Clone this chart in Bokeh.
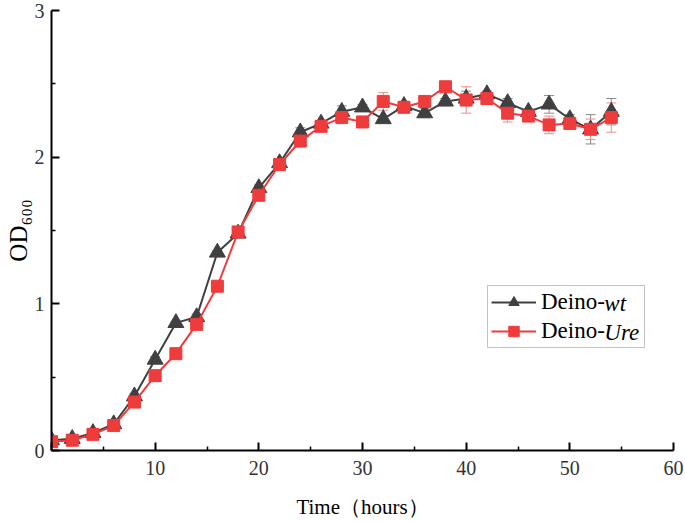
from bokeh.plotting import figure
from bokeh.models import (Range1d, Whisker, ColumnDataSource, Legend, LegendItem,
                          FixedTicker, TeeHead)
from bokeh.core.properties import value
from bokeh.embed import file_html
from bokeh.resources import INLINE

# ---- data ----
hours = [0, 2, 4, 6, 8, 10, 12, 14, 16, 18, 20, 22, 24, 26, 28, 30, 32, 34, 36, 38,
         40, 42, 44, 46, 48, 50, 52, 54]
wt_od = [0.07, 0.08, 0.12, 0.18, 0.37, 0.62, 0.87, 0.91, 1.35, 1.48, 1.79, 1.96,
         2.17, 2.23, 2.31, 2.34, 2.26, 2.35, 2.30, 2.38, 2.40, 2.43, 2.37, 2.31,
         2.36, 2.26, 2.19, 2.31]
wt_err = [0.01, 0.01, 0.02, 0.01, 0.02, 0.02, 0.01, 0.02, 0.01, 0.02, 0.02, 0.03,
          0.03, 0.02, 0.04, 0.02, 0.02, 0.02, 0.03, 0.02, 0.05, 0.02, 0.03, 0.02,
          0.06, 0.03, 0.10, 0.09]
ure_od = [0.06, 0.07, 0.11, 0.17, 0.33, 0.51, 0.66, 0.86, 1.12, 1.49, 1.74, 1.95,
          2.11, 2.21, 2.27, 2.24, 2.38, 2.34, 2.38, 2.48, 2.39, 2.40, 2.30, 2.28,
          2.22, 2.23, 2.19, 2.27]
ure_err = [0.01, 0.01, 0.02, 0.01, 0.02, 0.03, 0.01, 0.02, 0.01, 0.02, 0.02, 0.03,
           0.04, 0.02, 0.02, 0.02, 0.06, 0.02, 0.02, 0.02, 0.09, 0.02, 0.06, 0.02,
           0.06, 0.03, 0.07, 0.10]
x_ticks = [0, 10, 20, 30, 40, 50, 60]
y_ticks = [0, 1, 2, 3]
series_names = ["Deino-", "Deino-"]
series_italic = ["wt", "Ure"]
x_title = "Time（hours）"
y_title = "OD₆₀₀"

GRAY = "#404040"
RED = "#ee3b3b"
FONT = "Liberation Serif"

W, H = 685, 521
BL, BR, BT, BB = 51, 12, 10, 71
X0, X1, Y0, Y1 = 0, 60, 0, 3

p = figure(width=W, height=H, output_backend="svg", toolbar_location=None,
           x_range=Range1d(X0, X1), y_range=Range1d(Y0, Y1),
           min_border_left=BL, min_border_right=BR, min_border_top=BT, min_border_bottom=BB)
p.outline_line_color = None
p.grid.visible = False
p.background_fill_color = "white"

# pixel -> data helpers (for annotation placement)
pxu_x = (W - BL - BR) / (X1 - X0)
pxu_y = (H - BT - BB) / (Y1 - Y0)
def dx(px):
    return X0 + (px - BL) / pxu_x
def dy(py):
    return Y0 + (H - BB - py) / pxu_y

for ax in (p.xaxis[0], p.yaxis[0]):
    ax.axis_line_width = 2
    ax.axis_line_color = "black"
    ax.major_tick_in = 8
    ax.major_tick_out = 0
    ax.minor_tick_in = 4
    ax.minor_tick_out = 0
    ax.major_tick_line_width = 2
    ax.minor_tick_line_width = 1.5
    ax.major_tick_line_color = "black"
    ax.minor_tick_line_color = "black"
    ax.major_label_text_font = FONT
    ax.major_label_text_font_size = "20px"
    ax.major_label_text_color = "#333333"
    ax.axis_label_text_font = FONT
    ax.axis_label_text_font_style = "normal"
    ax.axis_label_text_color = "black"

p.xaxis.ticker = FixedTicker(ticks=x_ticks, minor_ticks=[t + 5 for t in x_ticks[:-1]])
p.yaxis.ticker = FixedTicker(ticks=y_ticks, minor_ticks=[t + 0.5 for t in y_ticks[:-1]])
p.xaxis.major_label_overrides = {0: ""}
p.xaxis.major_label_standoff = 10
p.yaxis.major_label_standoff = 7
p.xaxis.axis_label = x_title
p.xaxis.axis_label_text_font_size = "21px"
p.xaxis.axis_label_standoff = 17
p.yaxis.axis_label = y_title
p.yaxis.axis_label_text_font_size = "25px"
p.yaxis.axis_label_standoff = 0

# error bars
src_wt = ColumnDataSource(dict(x=hours, y=wt_od,
                               lo=[v - e for v, e in zip(wt_od, wt_err)],
                               hi=[v + e for v, e in zip(wt_od, wt_err)]))
src_ure = ColumnDataSource(dict(x=hours, y=ure_od,
                                lo=[v - e for v, e in zip(ure_od, ure_err)],
                                hi=[v + e for v, e in zip(ure_od, ure_err)]))

for src, col in ((src_wt, "#8a8a8a"), (src_ure, "#f08a8a")):
    w = Whisker(source=src, base="x", upper="hi", lower="lo", line_color=col, line_width=1,
                upper_head=TeeHead(size=10, line_color=col, line_width=1),
                lower_head=TeeHead(size=10, line_color=col, line_width=1))
    p.add_layout(w)

l_wt = p.line("x", "y", source=src_wt, line_color=GRAY, line_width=2)
m_wt = p.scatter("x", "y", source=src_wt, marker="triangle", size=16,
                 fill_color=GRAY, line_color=GRAY)
l_ure = p.line("x", "y", source=src_ure, line_color=RED, line_width=2)
m_ure = p.scatter("x", "y", source=src_ure, marker="square", size=12,
                  fill_color=RED, line_color=RED)

# legend box: left 487, top 287 (page pixels)
LEG_L, LEG_T = 487, 287
PAD, SP, ROW, GW, STAND, LW = 3, 3, 26, 45, 5, 100
leg_h = 2 * PAD + 2 * ROW + SP
legend = Legend(items=[LegendItem(label=series_names[0], renderers=[l_wt, m_wt]),
                       LegendItem(label=series_names[1], renderers=[l_ure, m_ure])],
                location=(LEG_L - BL, (H - BB) - (LEG_T + leg_h)))
legend.label_text_font = FONT
legend.label_text_font_size = "23px"
legend.label_text_color = "black"
legend.glyph_width = GW
legend.glyph_height = ROW
legend.label_height = ROW
legend.label_width = LW
legend.label_standoff = STAND
legend.padding = PAD
legend.spacing = SP
legend.margin = 0
legend.border_line_color = "#888888"
legend.border_line_width = 1
legend.background_fill_alpha = 0
p.add_layout(legend, "center")

# italic parts of legend labels (text glyph, data coordinates from pixel positions)
fs = 23
x_it = LEG_L + PAD + GW + STAND + 2.777 * fs
rows = [LEG_T + PAD + ROW / 2, LEG_T + PAD + ROW + SP + ROW / 2]
p.text(x=[dx(x_it)] * 2, y=[dy(r) for r in rows], text=series_italic,
       text_font=value(FONT), text_font_size="23px", text_font_style="italic",
       text_baseline="middle", text_align="left", text_color="black")

open("out.html", "w").write(file_html(p, INLINE))
